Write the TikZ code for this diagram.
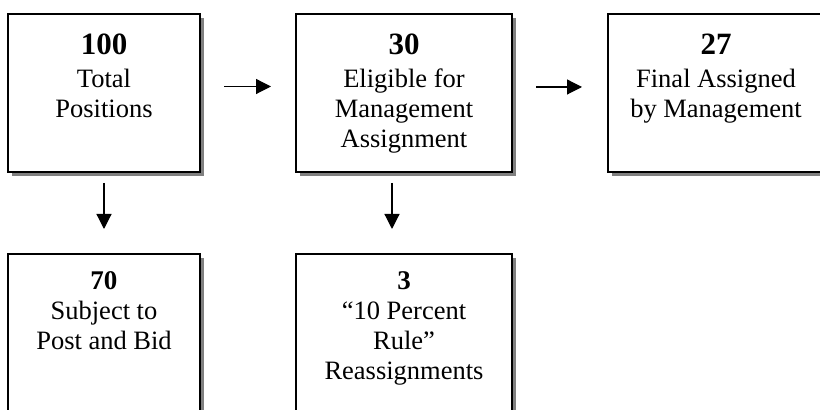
\documentclass[tikz,border=0pt]{standalone}
\usepackage{fontspec}
\setmainfont{Liberation Serif}
\usetikzlibrary{calc,shadows,arrows.meta}
\newcommand{\bigNum}[1]{{\fontsize{15.5}{15.5}\selectfont\bfseries\rule{0pt}{12pt}#1}\\[1.5pt]}
\newcommand{\smallNum}[1]{{\fontsize{13.5}{13.5}\selectfont\bfseries\rule{0pt}{12pt}#1}\\}
\newcommand{\drawCountBox}[5]{%
    \node[count box, minimum width=#3] (#1) at (#2) {};
    \node[count text] at ([yshift=-#4]#1.north) {#5};
}

\begin{document}
\begin{tikzpicture}[x=0.5pt, y=-0.5pt,
    count box/.style={draw, line width=1pt, fill=white, minimum height=79pt, inner sep=0pt,
        drop shadow={shadow xshift=2pt, shadow yshift=-2pt, fill=black!50, opacity=1}},
    count text/.style={anchor=north, inner sep=0pt, align=center, font=\fontsize{13.25}{15}\selectfont},
    flow/.style={-{Triangle[length=7.5pt,width=7.5pt]}, line width=0.6pt}]
\useasboundingbox (0,0) rectangle (820,410);
\clip (0,0) rectangle (820,410);

\drawCountBox{total}{104,93}{96pt}{8.5pt}{\bigNum{100}Total\\Positions}
\drawCountBox{eligible}{404,93}{108pt}{8.5pt}{\bigNum{30}Eligible for\\Management\\Assignment}
\drawCountBox{final}{716,93}{108pt}{8.5pt}{\bigNum{27}Final Assigned\\by Management}
\drawCountBox{postbid}{104,333}{96pt}{6pt}{\smallNum{70}Subject to\\Post and Bid}
\drawCountBox{tenpct}{404,333}{108pt}{6pt}{\smallNum{3}``10 Percent\\Rule''\\Reassignments}

\draw[flow] ([shift={(11.5pt,3.25pt)}]total.east) -- ([shift={(-12pt,3.25pt)}]eligible.west);
\draw[flow] ([shift={(11.5pt,3pt)}]eligible.east) -- ([shift={(-12.5pt,3pt)}]final.west);
\draw[flow] ([yshift=-5pt]total.south) -- ([yshift=12pt]postbid.north);
\draw[flow] ([shift={(-6pt,-5pt)}]eligible.south) -- ([shift={(-6pt,12pt)}]tenpct.north);
\end{tikzpicture}
\end{document}
